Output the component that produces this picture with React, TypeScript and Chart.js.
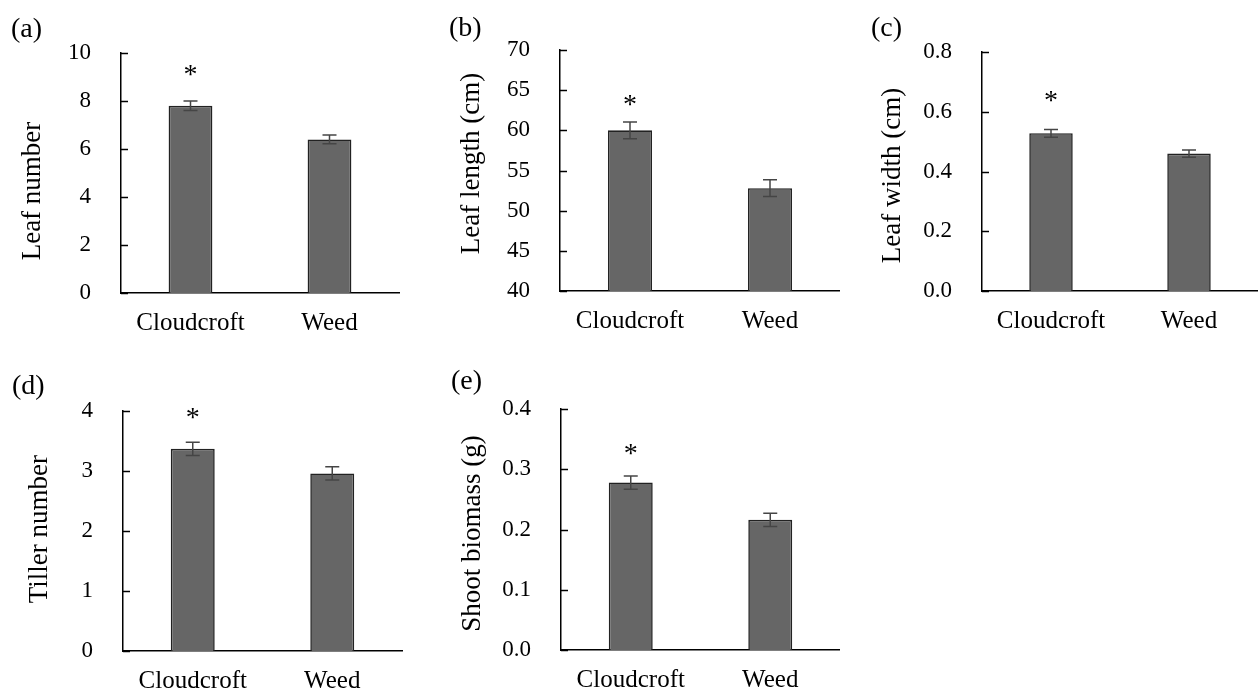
import React, { useEffect, useRef } from "react";
import { Chart, registerables } from "chart.js";

Chart.register(...registerables);

// ---------------- data ----------------
const categories = ["Cloudcroft", "Weed"];

const leafNumber = [7.8, 6.4];
const leafNumberErr = [0.2, 0.18];
const leafNumberStar = [9.3, null];

const leafLength = [60.0, 52.8];
const leafLengthErr = [1.05, 1.05];
const leafLengthStar = [63.9, null];

const leafWidth = [0.528, 0.46];
const leafWidthErr = [0.013, 0.012];
const leafWidthStar = [0.655, null];

const tillerNumber = [3.37, 2.96];
const tillerNumberErr = [0.11, 0.11];
const tillerNumberStar = [3.98, null];

const shootBiomass = [0.278, 0.216];
const shootBiomassErr = [0.011, 0.011];
const shootBiomassStar = [0.335, null];

const panelLetters = ["(a)", "(b)", "(c)", "(d)", "(e)"];
const yTitles = ["Leaf number", "Leaf length (cm)", "Leaf width (cm)", "Tiller number", "Shoot biomass (g)"];

const FONT = '"Liberation Serif", "DejaVu Serif", serif';

type Panel = {
  values: number[];
  errors: number[];
  stars: (number | null)[];
  title: string;
  letter: string;
  yMin: number;
  yMax: number;
  step: number;
  decimals: number;
  // layout
  left: number;
  top: number;
  w: number;
  h: number;
  areaLeft: number;
  areaTop: number;
  areaRight: number;
  areaBottom: number;
  titleCenter: number;
  titleShift: number;
  letterLeft: number;
  letterTop: number;
};

const panels: Panel[] = [
  {
    values: leafNumber, errors: leafNumberErr, stars: leafNumberStar, title: yTitles[0], letter: panelLetters[0],
    yMin: 0, yMax: 10, step: 2, decimals: 0,
    left: 0, top: 0, w: 420, h: 340, areaLeft: 121, areaTop: 53, areaRight: 399, areaBottom: 293,
    titleCenter: 33, titleShift: 18, letterLeft: 11, letterTop: 14,
  },
  {
    values: leafLength, errors: leafLengthErr, stars: leafLengthStar, title: yTitles[1], letter: panelLetters[1],
    yMin: 40, yMax: 70, step: 5, decimals: 0,
    left: 420, top: 0, w: 420, h: 340, areaLeft: 140, areaTop: 50, areaRight: 420, areaBottom: 291,
    titleCenter: 51.7, titleShift: -7, letterLeft: 29, letterTop: 13,
  },
  {
    values: leafWidth, errors: leafWidthErr, stars: leafWidthStar, title: yTitles[2], letter: panelLetters[2],
    yMin: 0, yMax: 0.8, step: 0.2, decimals: 1,
    left: 840, top: 0, w: 418, h: 340, areaLeft: 142, areaTop: 52, areaRight: 418, areaBottom: 291,
    titleCenter: 53.3, titleShift: 4, letterLeft: 31, letterTop: 13,
  },
  {
    values: tillerNumber, errors: tillerNumberErr, stars: tillerNumberStar, title: yTitles[3], letter: panelLetters[3],
    yMin: 0, yMax: 4, step: 1, decimals: 0,
    left: 0, top: 340, w: 420, h: 355, areaLeft: 123, areaTop: 71, areaRight: 402, areaBottom: 312,
    titleCenter: 40, titleShift: -2, letterLeft: 12, letterTop: 31,
  },
  {
    values: shootBiomass, errors: shootBiomassErr, stars: shootBiomassStar, title: yTitles[4], letter: panelLetters[4],
    yMin: 0, yMax: 0.4, step: 0.1, decimals: 1,
    left: 420, top: 340, w: 420, h: 355, areaLeft: 141, areaTop: 69, areaRight: 420, areaBottom: 310,
    titleCenter: 52.5, titleShift: 4, letterLeft: 31, letterTop: 26,
  },
];

function makeDecorations(p: Panel) {
  return {
    id: "decorations",
    afterDatasetsDraw(chart: any) {
      const { ctx, chartArea } = chart;
      const y = chart.scales.y;
      const meta = chart.getDatasetMeta(0);
      const data = chart.data.datasets[0].data as number[];
      ctx.save();
      // inward y ticks
      ctx.strokeStyle = "#000";
      ctx.lineWidth = 1.5;
      y.ticks.forEach((_t: any, i: number) => {
        const py = Math.round(y.getPixelForTick(i)) + 0.5;
        ctx.beginPath();
        ctx.moveTo(chartArea.left, py);
        ctx.lineTo(chartArea.left + 7, py);
        ctx.stroke();
      });
      // y axis title
      ctx.save();
      ctx.translate(p.titleCenter, (y.top + y.bottom) / 2 + p.titleShift);
      ctx.rotate(-Math.PI / 2);
      ctx.fillStyle = "#000";
      ctx.font = `27px ${FONT}`;
      ctx.textAlign = "center";
      ctx.textBaseline = "middle";
      ctx.fillText(p.title, 0, 0);
      ctx.restore();
      // error bars and significance marks
      ctx.strokeStyle = "#454545";
      ctx.lineWidth = 1.5;
      meta.data.forEach((bar: any, i: number) => {
        const v = data[i];
        const e = p.errors[i];
        const yt = y.getPixelForValue(v + e);
        const yb = y.getPixelForValue(v - e);
        ctx.beginPath();
        ctx.moveTo(bar.x, yt);
        ctx.lineTo(bar.x, yb);
        ctx.moveTo(bar.x - 7, yt);
        ctx.lineTo(bar.x + 7, yt);
        ctx.moveTo(bar.x - 7, yb);
        ctx.lineTo(bar.x + 7, yb);
        ctx.stroke();
        const s = p.stars[i];
        if (s != null) {
          ctx.fillStyle = "#000";
          ctx.font = `28px ${FONT}`;
          ctx.textAlign = "center";
          ctx.textBaseline = "alphabetic";
          ctx.fillText("*", bar.x, y.getPixelForValue(s) + 13.5);
        }
      });
      ctx.restore();
    },
  };
}

function PanelChart({ p }: { p: Panel }) {
  const ref = useRef<HTMLCanvasElement | null>(null);
  useEffect(() => {
    if (!ref.current) return;
    const chart = new Chart(ref.current, {
      type: "bar",
      data: {
        labels: categories,
        datasets: [
          {
            data: p.values,
            backgroundColor: "#666666",
            borderColor: "#222222",
            borderWidth: 1.6,
            categoryPercentage: 1,
            barPercentage: 0.315,
          },
        ],
      },
      options: {
        responsive: false,
        animation: false,
        devicePixelRatio: 1,
        layout: {
          padding: { left: 0, bottom: 0, top: p.areaTop, right: p.w - p.areaRight },
        },
        plugins: {
          legend: { display: false },
          tooltip: { enabled: false },
          title: { display: false },
        },
        scales: {
          x: {
            grid: { display: false, drawTicks: false },
            border: { display: true, color: "#000", width: 1.5 },
            ticks: {
              color: "#000",
              padding: 15,
              font: { family: FONT, size: 25 },
              maxRotation: 0,
            },
            afterFit: (scale: any) => {
              scale.height = p.h - p.areaBottom;
            },
          },
          y: {
            min: p.yMin,
            max: p.yMax,
            grid: { display: false, drawTicks: false },
            border: { display: true, color: "#000", width: 1.5 },
            ticks: {
              stepSize: p.step,
              color: "#000",
              padding: 30,
              font: { family: FONT, size: 23 },
              callback: (v: any) => Number(v).toFixed(p.decimals),
            },
            title: { display: false },
            afterFit: (scale: any) => {
              scale.width = p.areaLeft;
            },
          },
        },
      } as any,
      plugins: [makeDecorations(p)],
    });
    return () => chart.destroy();
  }, [p]);
  return (
    <>
      <canvas
        ref={ref}
        width={p.w}
        height={p.h}
        style={{ position: "absolute", left: p.left, top: p.top, width: p.w, height: p.h, display: "block" }}
      />
      <div
        style={{
          position: "absolute",
          left: p.left + p.letterLeft,
          top: p.top + p.letterTop,
          fontFamily: FONT,
          fontSize: 28,
          lineHeight: "28px",
          color: "#000",
          whiteSpace: "nowrap",
        }}
      >
        {p.letter}
      </div>
    </>
  );
}

export default function App() {
  return (
    <div
      style={{
        position: "fixed",
        left: 0,
        top: 0,
        width: 1258,
        height: 695,
        background: "#fff",
        overflow: "hidden",
      }}
    >
      {panels.map((p, i) => (
        <PanelChart key={i} p={p} />
      ))}
    </div>
  );
}
